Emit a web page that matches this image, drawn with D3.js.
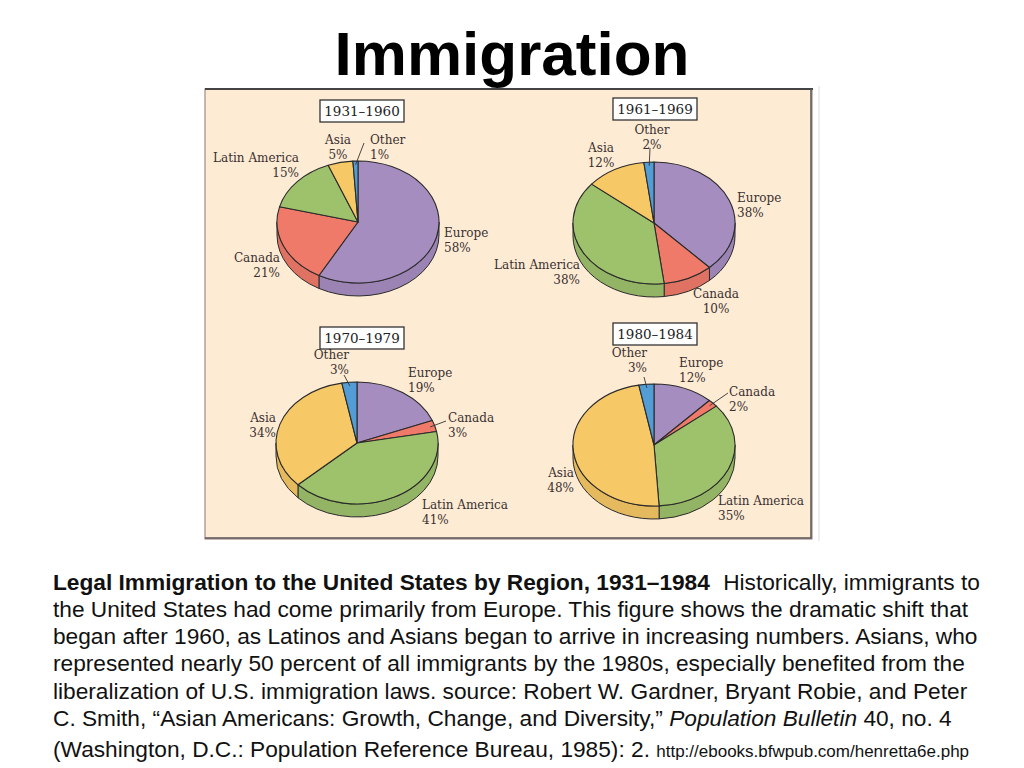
<!DOCTYPE html>
<html>
  <head>
    <meta charset="utf-8" />
    <title>Immigration</title>
    <script src="https://d3js.org/d3.v7.min.js"></script>
    <style>
      body { margin: 0; background: #fff; }
      svg { display: block; }
    </style>
  </head>
  <body>
    <svg id="chart" width="1024" height="768"></svg>
    <script>
        // values (percent)
        var regions = ["Europe", "Canada", "Latin America", "Asia", "Other"];
        var periods = ["1931–1960", "1961–1969", "1970–1979", "1980–1984"];
        var europe = [58, 38, 19, 12];
        var canada = [21, 10, 3, 2];
        var latinAmerica = [15, 38, 41, 35];
        var asia = [5, 12, 34, 48];
        var other = [1, 2, 3, 3];

        var seriesByRegion = [europe, canada, latinAmerica, asia, other];

        var colors = d3.scaleOrdinal()
            .domain(regions)
            .range(["#a68dc0", "#f07a69", "#9ec16b", "#f6c866", "#529dd6"]);

        // layout: pie centres, label offsets [dx, dy, anchor], leader line ends
        var pieLayout = [
            { cx: 358, cy: 222, box: [4, -122],
              labels: [[86, 15, "start"], [-78, 40, "end"], [-59, -60, "end"], [-20, -78, "middle"], [12, -78, "start"]],
              leaders: { "Other": [6, -79] } },
            { cx: 654, cy: 223, box: [1, -125],
              labels: [[83, -21, "start"], [62, 75, "middle"], [-74, 46, "end"], [-53, -71, "middle"], [-2, -89, "middle"]],
              leaders: { "Other": [-4, -75] } },
            { cx: 357, cy: 443, box: [5, -116],
              labels: [[51, -66, "start"], [91, -21, "start"], [65, 66, "start"], [-81, -21, "end"], [-8, -84, "end"]],
              leaders: { "Other": [-13, -68], "Canada": [89, -22] } },
            { cx: 654, cy: 445, box: [1, -122],
              labels: [[25, -78, "start"], [75, -49, "start"], [64, 60, "start"], [-80, 32, "end"], [-7, -88, "end"]],
              leaders: { "Other": [-10, -68], "Canada": [74, -52] } }
        ];

        var rx = 81, ry = 61, depth = 13;
        var k = ry / rx;

        var svg = d3.select("#chart");

        // title
        svg.append("text")
            .attr("x", 512).attr("y", 75)
            .attr("text-anchor", "middle")
            .style("font-family", "'Liberation Sans', Arial, sans-serif")
            .style("font-weight", "bold")
            .style("font-size", "62px")
            .text("Immigration");

        // panel
        svg.append("rect")
            .attr("x", 205).attr("y", 89)
            .attr("width", 607).attr("height", 450)
            .attr("fill", "#fdebd4")
            .attr("stroke", "#a08a86")
            .attr("stroke-width", 1.2);
        svg.append("line")
            .attr("x1", 205).attr("x2", 813).attr("y1", 89).attr("y2", 89)
            .attr("stroke", "#444").attr("stroke-width", 2);
        svg.append("polyline")
            .attr("points", "811,89 811,538 205,538")
            .attr("fill", "none").attr("stroke", "#555").attr("stroke-width", 1.5);
        svg.append("line")
            .attr("x1", 819).attr("x2", 819).attr("y1", 86).attr("y2", 541)
            .attr("stroke", "#ddd").attr("stroke-width", 1);

        var pie = d3.pie().sort(null).value(function (d) { return d.value; });
        var arc = d3.arc().innerRadius(0).outerRadius(rx);
        var serif = "'DejaVu Serif', 'Liberation Serif', serif";

        periods.forEach(function (period, i) {
            var lay = pieLayout[i];
            var rows = regions.map(function (r, j) {
                return { region: r, value: seriesByRegion[j][i] };
            });
            var slices = pie(rows);

            var g = svg.append("g")
                .attr("transform", "translate(" + lay.cx + "," + lay.cy + ") scale(1," + k + ")");

            // visible side wall (front half only)
            var D = depth / k;
            g.selectAll("path.side")
                .data(slices.filter(function (s) {
                    return Math.max(s.startAngle, Math.PI / 2) < Math.min(s.endAngle, 3 * Math.PI / 2);
                }))
                .enter().append("path")
                .attr("class", "side")
                .attr("d", function (s) {
                    var a = Math.max(s.startAngle, Math.PI / 2);
                    var b = Math.min(s.endAngle, 3 * Math.PI / 2);
                    var p = d3.path();
                    p.moveTo(rx * Math.sin(a), -rx * Math.cos(a));
                    p.arc(0, 0, rx, a - Math.PI / 2, b - Math.PI / 2, false);
                    p.lineTo(rx * Math.sin(b), -rx * Math.cos(b) + D);
                    p.arc(0, D, rx, b - Math.PI / 2, a - Math.PI / 2, true);
                    p.closePath();
                    return p.toString();
                })
                .attr("fill", function (s) { return d3.color(colors(s.data.region)).darker(0.2); })
                .attr("stroke", "#2b2b2b")
                .attr("stroke-width", 1)
                .attr("vector-effect", "non-scaling-stroke");

            // top face
            g.selectAll("path.top")
                .data(slices)
                .enter().append("path")
                .attr("class", "top")
                .attr("d", arc)
                .attr("fill", function (s) { return colors(s.data.region); })
                .attr("stroke", "#2b2b2b")
                .attr("stroke-width", 1.1)
                .attr("stroke-linejoin", "round")
                .attr("vector-effect", "non-scaling-stroke");

            // leader lines
            slices.forEach(function (s) {
                var end = lay.leaders[s.data.region];
                if (!end) return;
                var m = (s.startAngle + s.endAngle) / 2;
                svg.append("line")
                    .attr("x1", lay.cx + 0.94 * rx * Math.sin(m))
                    .attr("y1", lay.cy - 0.94 * ry * Math.cos(m))
                    .attr("x2", lay.cx + end[0])
                    .attr("y2", lay.cy + end[1])
                    .attr("stroke", "#333")
                    .attr("stroke-width", 0.9);
            });

            // labels
            var lbl = svg.append("g").selectAll("text")
                .data(slices)
                .enter().append("text")
                .attr("text-anchor", function (s, j) { return lay.labels[j][2]; })
                .style("font-family", serif)
                .style("font-size", "12px")
                .attr("fill", "#3a3030");
            lbl.append("tspan")
                .attr("x", function (s, j) { return lay.cx + lay.labels[j][0]; })
                .attr("y", function (s, j) { return lay.cy + lay.labels[j][1]; })
                .text(function (s) { return s.data.region; });
            lbl.append("tspan")
                .attr("x", function (s, j) { return lay.cx + lay.labels[j][0]; })
                .attr("y", function (s, j) { return lay.cy + lay.labels[j][1] + 14.5; })
                .text(function (s) { return s.data.value + "%"; });

            // period box
            var bw = 84, bh = 22;
            var bx = lay.cx + lay.box[0] - bw / 2, by = lay.cy + lay.box[1];
            svg.append("rect")
                .attr("x", bx).attr("y", by)
                .attr("width", bw).attr("height", bh)
                .attr("fill", "#fff")
                .attr("stroke", "#333").attr("stroke-width", 1.3);
            svg.append("text")
                .attr("x", bx + bw / 2).attr("y", by + 16)
                .attr("text-anchor", "middle")
                .style("font-family", serif)
                .style("font-size", "13.5px")
                .attr("fill", "#222")
                .text(period);
        });

        // caption
        var cap = svg.append("text")
            .attr("x", 53)
            .style("font-family", "'Liberation Sans', Arial, sans-serif")
            .style("font-size", "22.7px")
            .attr("fill", "#111");

        var line1 = cap.append("tspan").attr("x", 53).attr("y", 590);
        line1.append("tspan").style("font-weight", "bold")
            .text("Legal Immigration to the United States by Region, 1931–1984");
        line1.append("tspan").attr("dx", 7).text(" Historically, immigrants to");

        var captionLines = [
            "the United States had come primarily from Europe. This figure shows the dramatic shift that",
            "began after 1960, as Latinos and Asians began to arrive in increasing numbers. Asians, who",
            "represented nearly 50 percent of all immigrants by the 1980s, especially benefited from the",
            "liberalization of U.S. immigration laws. source: Robert W. Gardner, Bryant Robie, and Peter"
        ];
        captionLines.forEach(function (t, i) {
            cap.append("tspan").attr("x", 53).attr("y", 617 + i * 27.2).text(t);
        });

        var line6 = cap.append("tspan").attr("x", 53).attr("y", 726);
        line6.append("tspan").text("C. Smith, “Asian Americans: Growth, Change, and Diversity,” ");
        line6.append("tspan").style("font-style", "italic").text("Population Bulletin");
        line6.append("tspan").text(" 40, no. 4");

        var line7 = cap.append("tspan").attr("x", 53).attr("y", 757);
        line7.append("tspan").text("(Washington, D.C.: Population Reference Bureau, 1985): 2. ");
        line7.append("tspan").style("font-size", "17px").text("http://ebooks.bfwpub.com/henretta6e.php");
    </script>
  </body>
</html>
